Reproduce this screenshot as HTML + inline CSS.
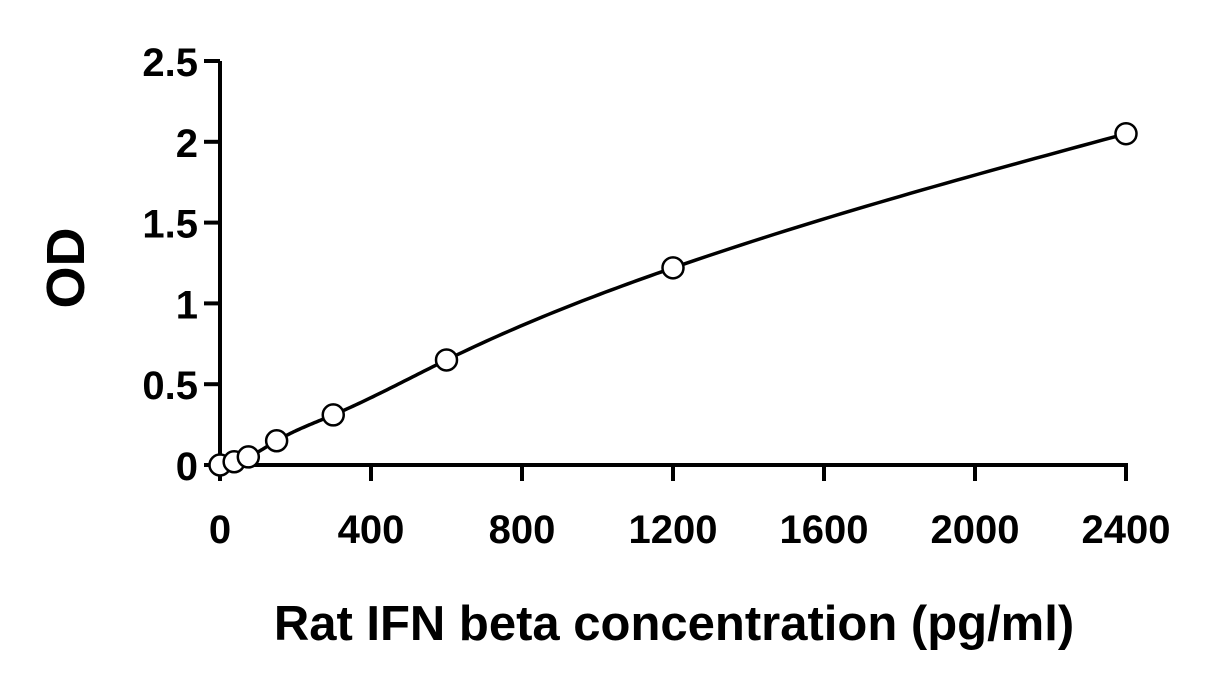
<!DOCTYPE html>
<html><head><meta charset="utf-8"><style>
html,body{margin:0;padding:0;background:#fff;}
svg{display:block;font-family:"Liberation Sans",sans-serif;font-weight:bold;}
</style></head><body>
<svg id="chart" width="1216" height="682" viewBox="0 0 1216 682">
<g id="axes"></g>
<g id="curve"></g>
<g id="points"></g>
<text x="84" y="268" font-size="54" text-anchor="middle" transform="rotate(-90 84 268)">OD</text>
<text x="674" y="640" font-size="49" text-anchor="middle">Rat IFN beta concentration (pg/ml)</text>
</svg>
<script>
const concentrations = [0, 37.5, 75, 150, 300, 600, 1200, 2400];
const odValues = [0, 0.02, 0.05, 0.15, 0.31, 0.65, 1.22, 2.05];
const xTicks = [0, 400, 800, 1200, 1600, 2000, 2400];
const yTicks = [0, 0.5, 1, 1.5, 2, 2.5];
const yTickLabels = ["0", "0.5", "1", "1.5", "2", "2.5"];

const X0 = 220, X1 = 1126, Y0 = 465, Y1 = 61;
const sx = v => X0 + (v - 0) / 2400 * (X1 - X0);
const sy = v => Y0 - v / 2.5 * (Y0 - Y1);
const NS = "http://www.w3.org/2000/svg";
function mk(tag, attrs, parent) {
  const e = document.createElementNS(NS, tag);
  for (const k in attrs) e.setAttribute(k, attrs[k]);
  parent.appendChild(e);
  return e;
}
const axes = document.getElementById('axes');
let l = mk('line', {x1: X0, y1: Y1, x2: X0, y2: Y0 + 2, stroke: '#000', 'stroke-width': 4}, axes);


l = mk('line', {x1: X0 - 2, y1: Y0, x2: X1 + 2, y2: Y0, stroke: '#000', 'stroke-width': 4}, axes);


yTicks.forEach((v, i) => {
  const t = mk('line', {x1: X0 - 16, x2: X0, y1: sy(v), y2: sy(v), stroke: '#000', 'stroke-width': 4}, axes);
  
  
  const tx = mk('text', {x: X0 - 22, y: sy(v) + 15, 'font-size': 40, 'text-anchor': 'end'}, axes);
  tx.textContent = yTickLabels[i];
  
  
});
xTicks.forEach(v => {
  const t = mk('line', {x1: sx(v), x2: sx(v), y1: Y0, y2: Y0 + 16, stroke: '#000', 'stroke-width': 4}, axes);
  
  
  const tx = mk('text', {x: sx(v), y: Y0 + 78, 'font-size': 40, 'text-anchor': 'middle'}, axes);
  tx.textContent = String(v);
  
  
});
// natural cubic spline through data points
const n = concentrations.length;
const xs = concentrations, ys = odValues;
const h = [], al = [0], lw = [1], mu = [0], z = [0], c = new Array(n).fill(0), b = [], dd = [];
for (let i = 0; i < n - 1; i++) h.push(xs[i + 1] - xs[i]);
for (let i = 1; i < n - 1; i++) al[i] = 3 / h[i] * (ys[i + 1] - ys[i]) - 3 / h[i - 1] * (ys[i] - ys[i - 1]);
for (let i = 1; i < n - 1; i++) {
  lw[i] = 2 * (xs[i + 1] - xs[i - 1]) - h[i - 1] * mu[i - 1];
  mu[i] = h[i] / lw[i];
  z[i] = (al[i] - h[i - 1] * z[i - 1]) / lw[i];
}
for (let j = n - 2; j >= 0; j--) {
  c[j] = z[j] - mu[j] * c[j + 1];
  b[j] = (ys[j + 1] - ys[j]) / h[j] - h[j] * (c[j + 1] + 2 * c[j]) / 3;
  dd[j] = (c[j + 1] - c[j]) / (3 * h[j]);
}
let d = '';
for (let j = 0; j < n - 1; j++) {
  const steps = 40;
  for (let s = 0; s <= steps; s++) {
    const t = h[j] * s / steps;
    const y = ys[j] + b[j] * t + c[j] * t * t + dd[j] * t * t * t;
    d += (d ? ' L' : 'M') + sx(xs[j] + t).toFixed(2) + ',' + sy(y).toFixed(2);
  }
}
const path = mk('path', {d: d, fill: 'none', stroke: '#000', 'stroke-width': 3.5}, document.getElementById('curve'));


const pg = document.getElementById('points');
concentrations.forEach((cv, i) => {
  const cc = mk('circle', {cx: sx(cv), cy: sy(odValues[i]), r: 10.5, fill: '#fff', stroke: '#000', 'stroke-width': 2.5}, pg);
  
  
});
</script>
</body></html>
